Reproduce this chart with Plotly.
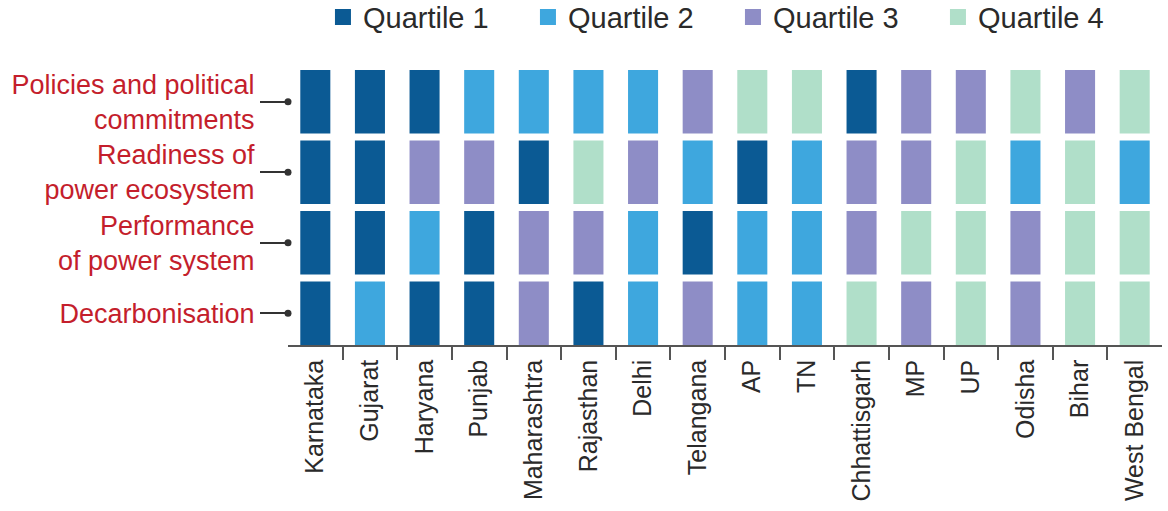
import plotly.graph_objects as go

states = ["Karnataka", "Gujarat", "Haryana", "Punjab", "Maharashtra", "Rajasthan",
          "Delhi", "Telangana", "AP", "TN", "Chhattisgarh", "MP", "UP", "Odisha",
          "Bihar", "West Bengal"]

# Row labels, top to bottom
pillars = ["Policies and political<br>commitments",
           "Readiness of<br>power ecosystem",
           "Performance<br>of power system",
           "Decarbonisation"]

# Quartile per state for each pillar (same order as pillars)
policies = [1, 1, 1, 2, 2, 2, 2, 3, 4, 4, 1, 3, 3, 4, 3, 4]
readiness = [1, 1, 3, 3, 1, 4, 3, 2, 1, 2, 3, 3, 4, 2, 4, 2]
performance = [1, 1, 2, 1, 3, 3, 2, 1, 2, 2, 3, 4, 4, 3, 4, 4]
decarbonisation = [1, 2, 1, 1, 3, 1, 2, 3, 2, 2, 4, 3, 4, 3, 4, 4]

quartile_names = ["Quartile 1", "Quartile 2", "Quartile 3", "Quartile 4"]
quartile_colors = ["#0b5a94", "#3ea7de", "#8e8dc6", "#b0dfc9"]

rows = [policies, readiness, performance, decarbonisation]
n_rows = len(rows)
row_h = 0.9

sans = "Liberation Sans, Arial, sans-serif"

fig = go.Figure()

for q in range(4):
    xs, bases, ys = [], [], []
    for r, vals in enumerate(rows):
        level = n_rows - 1 - r  # top row highest
        for i, v in enumerate(vals):
            if v == q + 1:
                xs.append(i)
                bases.append(level)
                ys.append(row_h)
    fig.add_trace(go.Bar(
        x=xs, y=ys, base=bases, width=0.55,
        marker=dict(color=quartile_colors[q], line=dict(width=0)),
        showlegend=False, hoverinfo="skip"))
    # legend proxy
    fig.add_trace(go.Scatter(
        x=[None], y=[None], mode="markers", name=quartile_names[q],
        marker=dict(symbol="square", size=20, color=quartile_colors[q]),
        showlegend=True))

centers = [n_rows - 1 - r + row_h / 2 for r in range(n_rows)]

# connector dots on the left edge
fig.add_trace(go.Scatter(
    x=[-0.5] * n_rows, y=centers, mode="markers",
    marker=dict(size=7, color="#333333"), cliponaxis=False,
    showlegend=False, hoverinfo="skip"))

fig.update_layout(
    width=1168, height=511,
    margin=dict(l=288, r=6, t=70, b=166, autoexpand=False),
    paper_bgcolor="white", plot_bgcolor="white",
    barmode="overlay",
    legend=dict(orientation="h", x=0.04, xanchor="left", y=1.285, yanchor="top",
                font=dict(family=sans, size=29, color="#2a2a2a"),
                entrywidth=160, entrywidthmode="pixels",
                itemsizing="trace", traceorder="normal"),
    xaxis=dict(range=[-0.5, 15.5], tickmode="array",
               tickvals=list(range(len(states))), ticktext=states,
               tickangle=-90, ticks="", showgrid=False, zeroline=False,
               showline=True, linecolor="#555555", linewidth=1.5,
               tickfont=dict(family=sans, size=25, color="#2a2a2a"),
               ticklabelstandoff=3, automargin=False,
               minor=dict(tickmode="array",
                          tickvals=[i + 0.5 for i in range(len(states) - 1)],
                          ticks="outside", ticklen=13, tickcolor="#555555",
                          tickwidth=1.5, showgrid=False),
               fixedrange=True),
    yaxis=dict(range=[0, n_rows - 1 + row_h], tickmode="array",
               tickvals=centers, ticktext=pillars,
               ticks="outside", ticklen=27, tickcolor="#333333", tickwidth=1.5,
               showgrid=False, zeroline=False, showline=False,
               tickfont=dict(family=sans, size=27, color="#c41e2c"),
               ticklabelstandoff=0, automargin=False, fixedrange=True),
)

fig.write_html("out.html")
